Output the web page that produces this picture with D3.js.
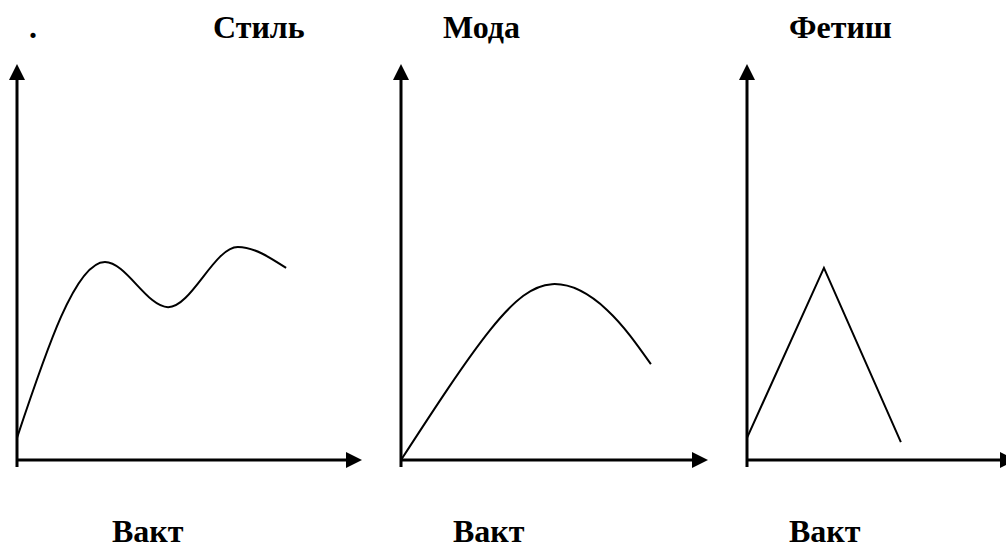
<!DOCTYPE html>
<html>
<head>
<meta charset="utf-8">
<script src="https://cdn.jsdelivr.net/npm/d3@7"></script>
<style>
  html, body { margin: 0; padding: 0; background: #fff; }
  svg { display: block; }
  text { font-family: "Liberation Serif", "Times New Roman", serif; font-weight: bold; font-size: 32px; fill: #000; }
</style>
</head>
<body>
<svg id="chart" width="1006" height="548"></svg>
<script>
// Panel titles and the shared x-axis caption
const titles = ["Стиль", "Мода", "Фетиш"];
const xCaption = "Вакт";

// Curve values per panel (x: time, y: popularity), both on a 0–100 scale
const styleX = [0, 25.5, 43.8, 64, 78];
const styleY = [5.6, 50, 38.6, 53.8, 48.5];

const fashionX = [0, 29, 49.2, 67.1, 81.4];
const fashionY = [0, 32.8, 44.4, 37.9, 24.2];

const fetishX = [0, 28.6, 57.2];
const fetishY = [5.6, 48.5, 4.5];

const svg = d3.select("#chart");

// Layout of the three small panels
const panels = [
  { title: titles[0], xs: styleX, ys: styleY, left: 17, right: 362, titleX: 213, capX: 112, curve: d3.curveMonotoneX },
  { title: titles[1], xs: fashionX, ys: fashionY, left: 401, right: 708, titleX: 443, capX: 453, curve: d3.curveNatural },
  { title: titles[2], xs: fetishX, ys: fetishY, left: 747, right: 1016, titleX: 789, capX: 789, curve: d3.curveLinear }
];

const yTop = 64, yBase = 460;
const head = 16, half = 8;

// stray full stop at the top-left of the page
svg.append("text").attr("x", 29).attr("y", 38).text(".");

panels.forEach(p => {
  const x = d3.scaleLinear().domain([0, 100]).range([p.left, p.right]);
  const y = d3.scaleLinear().domain([0, 100]).range([yBase, yTop]);
  const g = svg.append("g");

  // vertical axis with arrowhead
  g.append("line")
    .attr("x1", x(0)).attr("x2", x(0))
    .attr("y1", yBase + 7).attr("y2", y(100) + head - 1)
    .attr("stroke", "#000").attr("stroke-width", 3);
  g.append("path")
    .attr("d", `M${x(0)},${y(100)} L${x(0) - half},${y(100) + head} L${x(0) + half},${y(100) + head} Z`)
    .attr("fill", "#000");

  // horizontal axis with arrowhead
  g.append("line")
    .attr("x1", x(0)).attr("x2", x(100) - head + 1)
    .attr("y1", y(0)).attr("y2", y(0))
    .attr("stroke", "#000").attr("stroke-width", 3);
  g.append("path")
    .attr("d", `M${x(100)},${y(0)} L${x(100) - head},${y(0) - half} L${x(100) - head},${y(0) + half} Z`)
    .attr("fill", "#000");

  // life-cycle curve
  const pts = p.xs.map((v, i) => [v, p.ys[i]]);
  g.append("path")
    .datum(pts)
    .attr("d", d3.line().x(d => x(d[0])).y(d => y(d[1])).curve(p.curve))
    .attr("fill", "none").attr("stroke", "#000").attr("stroke-width", 2)
    .attr("stroke-linejoin", "miter");

  // title and caption
  g.append("text").attr("x", p.titleX).attr("y", 38).text(p.title);
  g.append("text").attr("x", p.capX).attr("y", 542).text(xCaption);
});
</script>
</body>
</html>
